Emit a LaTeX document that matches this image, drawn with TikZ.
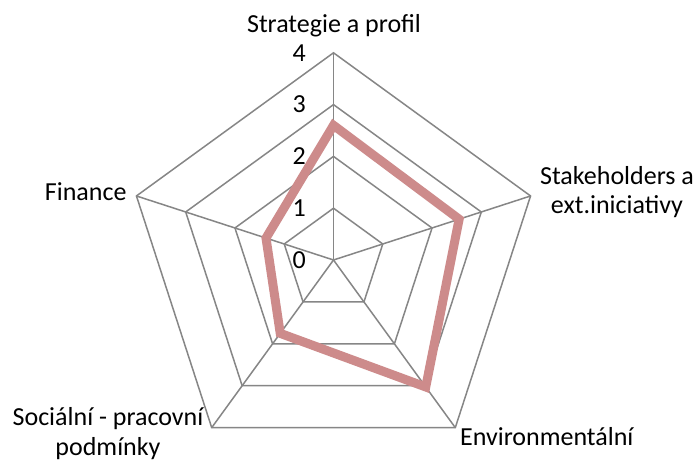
\documentclass[tikz,border=0pt]{standalone}
\usepackage{fontspec}
\setmainfont{Carlito}
\usetikzlibrary{calc}
\definecolor{gridgray}{RGB}{134,134,134}
\definecolor{serieslc}{RGB}{205,139,139}
\begin{document}
\begin{tikzpicture}[x=1pt,y=1pt,
  gridline/.style={draw=gridgray,line width=1.5pt},
  seriesline/.style={draw=serieslc,line width=9pt,line join=miter},
  lbl/.style={inner sep=0pt,font=\fontsize{26}{30}\selectfont},
  tick/.style={inner sep=0pt,anchor=base east,font=\fontsize{26}{30}\selectfont}]
\useasboundingbox (0,0) rectangle (699,461);
\fill[white] (0,0) rectangle (699,461);
\coordinate (O) at (333.5,201);
\def\u{51.8}
% grid coordinates
\foreach \i/\a in {1/90,2/18,3/-54,4/-126,5/162}{
  \foreach \k in {1,2,3,4}{
    \coordinate (g\k-\i) at ($(O)+(\a:\k*\u)$);
  }
}
% grid polygons
\foreach \k in {1,2,3,4}{
  \draw[gridline] (g\k-1) -- (g\k-2) -- (g\k-3) -- (g\k-4) -- (g\k-5) -- cycle;
}
% spokes
\foreach \i in {1,2,3,4,5}{
  \draw[gridline] (O) -- (g4-\i);
}
% data
\coordinate (d1) at ($(O)+(90:2.6*\u)$);
\coordinate (d2) at ($(O)+(18:2.55*\u)$);
\coordinate (d3) at ($(O)+(-54:3.03*\u)$);
\coordinate (d4) at ($(O)+(-126:1.75*\u)$);
\coordinate (d5) at ($(O)+(162:1.37*\u)$);
\draw[seriesline] (d1) -- (d2) -- (d3) -- (d4) -- (d5) -- cycle;
% tick labels
\node[tick] (t0) at (306,192.3) {0};
\node[tick] (t1) at (306,244.3) {1};
\node[tick] (t2) at (306,296.3) {2};
\node[tick] (t3) at (306,348.3) {3};
\node[tick] (t4) at (306,399.3) {4};
% category labels
\node[lbl,anchor=base] (l1) at (334,428) {Strategie a profil};
\node[lbl,anchor=base] (l2a) at (617,276) {Stakeholders a};
\node[lbl,anchor=base] (l2b) at (617,247) {ext.iniciativy};
\node[lbl,anchor=base west] (l3) at (460,16) {Environmentální};
\node[lbl,anchor=base] (l4a) at (108,36) {Sociální - pracovní};
\node[lbl,anchor=base] (l4b) at (108,6) {podmínky};
\node[lbl,anchor=base east] (l5) at (126.7,260.3) {Finance};
\end{tikzpicture}
\end{document}
